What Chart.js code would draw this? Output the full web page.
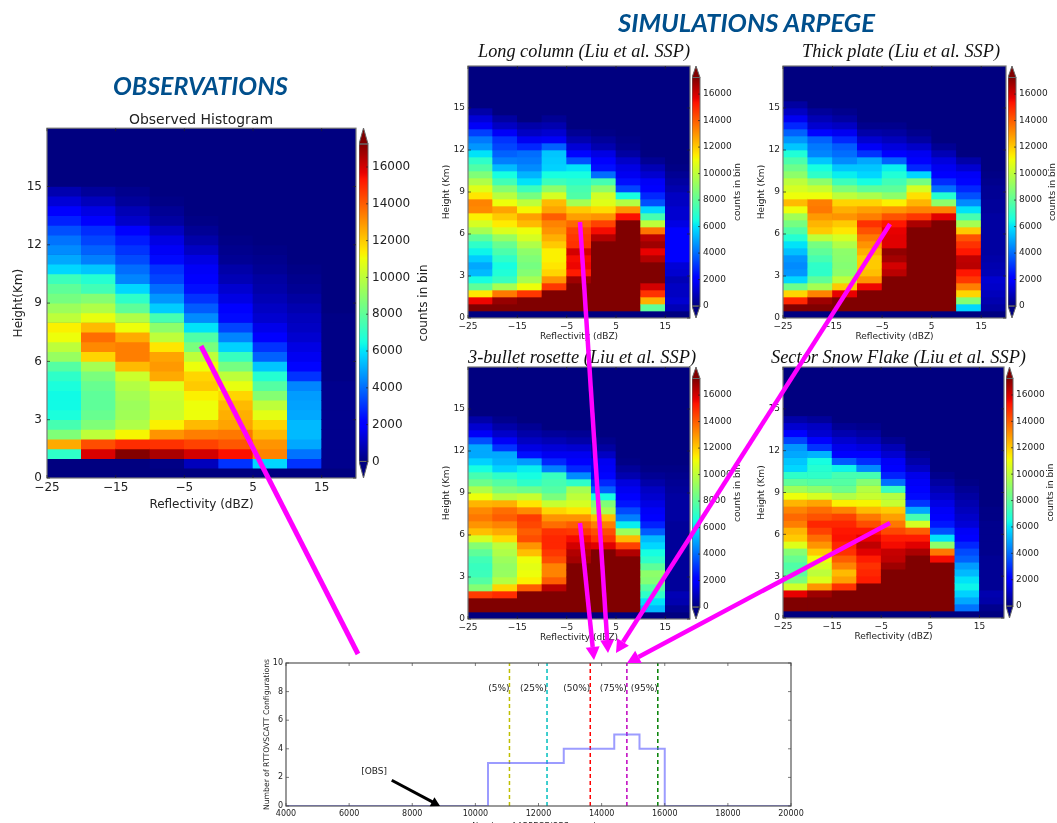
<!DOCTYPE html>
<html><head><meta charset="utf-8">
<script src="https://cdn.jsdelivr.net/npm/chart.js@4"></script>
<style>
html,body{margin:0;padding:0;background:#fff;width:1057px;height:823px;overflow:hidden}
#stage{position:absolute;left:0;top:0;width:1057px;height:823px;overflow:hidden;filter:blur(.55px)}
#stage canvas{position:absolute}
#over{position:absolute;left:0;top:0}
</style></head><body><div id="stage"></div>
<script>
const xTicksHeat=[-25,-15,-5,5,15];
const yTicksHeat=[0,3,6,9,12,15];
const colorbarRange=[0,17250];
const obsCounts=[
[0,0,7000,12600,8700,7500,6600,6400,6400,6600,7000,7800,9200,10000,11000,11300,10000,9300,8500,8000,7300,5800,5000,4500,4100,3500,2700,2000,1300,700],
[0,0,15900,14300,10000,8700,8200,8000,8000,8200,8600,9500,11800,13200,13700,12300,10900,9700,8800,7400,6800,5500,4300,3800,3300,2900,1900,1500,900,400],
[0,0,17200,14900,11200,9700,9400,9300,9500,9800,10300,12300,13400,13400,12600,11000,9700,8000,7000,5800,4400,4000,3400,3000,2600,2000,1100,800,400,200],
[0,100,16600,14800,13000,11300,10300,10200,10300,10700,12600,12900,12700,11500,10000,9000,7500,5600,4700,4000,3300,3000,2300,1800,1500,1000,500,300,100],
[0,900,16000,14500,13400,12300,11000,11000,11300,12000,11800,11000,10000,8600,7700,6000,4500,3700,3000,2400,2000,1800,1500,1000,600,300,100],
[0,3000,15400,14100,13500,12700,12500,12300,11800,10900,10000,8500,7200,5700,4400,3300,2300,1900,1500,1200,800,600,300,200,100],
[0,5800,13300,13000,12300,11800,10800,10000,8800,7800,6800,5500,3800,3000,2000,1600,1200,1000,800,600,500,300,200,100],
[0,3000,4100,5000,5300,5300,5000,4900,4800,4400,3000,2200,1700,1500,1200,1000,900,700,500,300,200,100],
[0,200,200,200,200,200,200,200,200,200,100,100,100,100,100,100,100]];
const longColumnCounts=[
[0,17300,15600,11500,8000,6500,5300,5000,5600,6300,7000,8000,9500,10500,11300,13200,13300,11500,10700,9700,8700,7700,7000,6000,4700,4200,3200,1800,1300,600],
[0,17300,16900,13500,9500,7200,6700,6500,7000,7600,8200,9200,10600,11400,12000,12700,11000,9900,8800,7400,6500,5300,4300,3800,3300,3000,1800,1000,500],
[0,17300,17300,14700,11000,9500,8800,8500,8700,9000,9700,10500,11000,12300,12800,11200,10000,8500,7300,6000,5200,4500,4200,4000,2800,1700,1000,600],
[0,17300,17300,17300,14700,13000,11800,11500,11300,11300,12000,12500,13000,13300,14000,12700,12300,10500,9000,7300,6500,5700,5600,5500,3800,1800,1200,700,300],
[0,17300,17300,17300,17300,16800,15200,15600,15500,16000,14800,14700,14500,13800,12800,12000,9500,7700,7500,7000,6500,6000,3500,2200,1300,700,300],
[0,17300,17300,17300,17300,17300,17300,17300,17300,17300,17300,16500,15500,14500,13000,11700,10700,10400,9000,7500,4000,2400,2000,1500,700,400,100],
[0,17300,17300,17300,17300,17300,17300,17300,17300,17300,17300,17300,17300,17300,15400,13000,9800,6500,3300,2400,1700,1500,1100,500,200,100],
[0,8000,12500,14800,16000,17300,17300,17300,16500,15700,16800,16400,13600,10000,7500,5800,3500,2800,1900,1800,1200,800,300],
[0,800,1200,1000,1000,800,1200,1300,2000,2000,2000,2000,2000,1500,1200,1200,1000,1000,700,500,300,100]];
const thickPlateCounts=[
[0,17300,15000,11800,8300,5800,4700,4500,4700,5400,6000,6800,7700,8500,9400,11000,12300,11000,10500,10000,9000,8300,7600,6700,5500,4700,3800,2800,1700,1000,500],
[0,17300,16800,13300,9500,8000,7000,7000,7500,8000,8500,10000,12000,12400,12900,13500,13400,11000,10200,9000,7000,6500,5500,4400,4200,3800,2200,1200,800,400],
[0,17300,17300,15700,12000,10000,9000,8800,8900,9000,9700,10500,11500,12000,13000,12500,11800,10000,8700,7300,6200,5500,4500,4000,3700,2800,1700,1000,500,200],
[0,17300,17300,17300,15600,13000,12200,12000,12000,12500,13000,13500,14200,14800,13400,12800,11800,9600,8000,6500,5800,5500,5000,3000,1800,1200,600,200],
[0,17300,17300,17300,17300,17300,16400,16000,16700,17000,15800,15800,15700,15300,14200,13000,11300,9000,8000,7400,6700,6200,3800,2000,1400,900,500,200],
[0,17300,17300,17300,17300,17300,17300,17300,17300,17300,17300,17300,17300,16600,14700,13300,12400,11600,10500,8500,5800,2800,1900,1700,1100,500,200],
[0,17300,17300,17300,17300,17300,17300,17300,17300,17300,17300,17300,17300,17300,15800,13300,9000,6800,4000,2900,2000,1700,1400,800,300],
[0,5800,8800,11800,13400,14700,15300,16400,16300,15300,14800,14200,12000,9500,7500,6000,4500,3500,2800,2200,1800,1200,600],
[0,500,700,900,1100,1200,800,700,600,500,500,500,500,500,500,400,400,300,300,200,100]];
const rosetteCounts=[
[0,17300,17300,14600,8800,7800,7300,7200,7400,8000,8800,10500,12200,13000,13500,13200,12400,11000,9700,8300,7500,6500,5700,5000,5000,3500,1800,1200,600],
[0,17300,17300,14900,11800,9800,9200,9100,9300,9700,10000,11700,12600,13300,14000,13700,12500,9900,8600,7800,7000,5700,5200,5000,3000,1800,1100,600,200],
[0,17300,17300,17300,14000,11300,11000,10800,11000,12200,13000,14300,14000,14400,14600,13200,11500,10200,8300,7000,6500,6200,4800,2400,1500,1000,600,300],
[0,17300,17300,17300,16400,14000,13300,13300,14300,14700,15000,15000,14800,13700,13000,11800,10200,8600,7800,7500,7200,4300,2800,1700,1300,800,400],
[0,17300,17300,17300,17300,17300,17300,17300,16700,16500,16000,15500,14700,14000,13000,11500,10500,10000,9500,7000,4500,2800,2000,1700,1200,600,300],
[0,17300,17300,17300,17300,17300,17300,17300,17300,17300,15800,14800,14300,13400,12200,9500,8700,6500,3800,2800,2200,1800,1700,1000,500,200],
[0,17300,17300,17300,17300,17300,17300,17300,17300,16500,14500,12300,9300,6200,4300,3400,2500,2000,1700,1400,700,400,100],
[0,5300,6000,7000,7800,8800,9000,8000,7000,6500,5800,5300,3700,2700,2000,1800,1500,1200,1000,600,300,100],
[0,300,700,800,400,400,400,400,400,400,400,400,400,400,500,500,500,500,400,300,200,100]];
const snowFlakeCounts=[
[0,17300,17300,15700,10400,8600,7900,7700,8200,8800,10700,12000,12400,13400,13800,13300,12400,11000,9400,8000,7000,5800,5500,5000,4700,3300,1900,1200,600],
[0,17300,17300,16800,13000,10600,10000,10500,11000,12000,13000,13700,14500,15000,14200,13700,12700,10500,9000,7800,7000,6800,6500,5200,3000,1900,1200,1000,400],
[0,17300,17300,17300,14800,12800,12300,13300,14000,14800,15000,15400,15300,15000,14500,13300,11300,9700,8300,7800,7500,6300,3700,2000,1600,1200,700,300],
[0,17300,17300,17300,17300,15200,15000,14800,15200,15800,16300,15700,15300,14300,13500,12300,11200,10200,9800,8800,7500,4500,2900,1900,1400,900,500,200],
[0,17300,17300,17300,17300,17300,17300,16800,16300,16200,15500,15200,14400,13500,12800,12000,10200,9800,7200,4000,2700,2000,1800,1200,800,300],
[0,17300,17300,17300,17300,17300,17300,17300,17300,16600,15800,15200,14000,10500,7500,5000,3000,2300,2000,1800,1600,1000,600,300],
[0,17300,17300,17300,17300,17300,17300,17300,15500,13500,9000,6000,3500,2500,2000,1800,1500,1100,800,500,200],
[0,4100,5000,5700,6300,6000,5300,4800,3800,3400,2800,2000,1800,1300,1100,900,700,500,300,100],
[0,200,600,700,300,300,300,300,300,200,200,200,200,200,100,100]];
const histEdges=[4000,10400,12800,14400,15200,16000,20000];
const histCounts=[0,3,4,5,4,0,0];
const percentileValues=[11080,12270,13640,14800,15780];
const percentileLabels=['(5%)','(25%)','(50%)','(75%)','(95%)'];
const percentileColors=['#bfbf00','#00bfbf','#ff0000','#bf00bf','#008000'];
const obsLabel='[OBS]';

const jetR=[[0,0],[.35,0],[.66,1],[.89,1],[1,.5]];
const jetG=[[0,0],[.125,0],[.375,1],[.64,1],[.91,0],[1,0]];
const jetB=[[0,.5],[.11,1],[.34,1],[.65,0],[1,0]];
function ch(p,t){for(let i=1;i<p.length;i++){if(t<=p[i][0]){const a=p[i-1],b=p[i];return a[1]+(b[1]-a[1])*(t-a[0])/(b[0]-a[0]);}}return p[p.length-1][1];}
function jet(t){t=Math.max(0,Math.min(1,t));return `rgb(${Math.round(255*ch(jetR,t))},${Math.round(255*ch(jetG,t))},${Math.round(255*ch(jetB,t))})`;}
const VMAX=colorbarRange[1];
const stage=document.getElementById('stage');
Chart.defaults.font.family='"DejaVu Sans"';
Chart.defaults.color='#222';
Chart.defaults.animation=false;
function mk(l,t,w,h){const c=document.createElement('canvas');c.width=w;c.height=h;c.style.left=l+'px';c.style.top=t+'px';c.style.width=w+'px';c.style.height=h+'px';stage.appendChild(c);return c;}
const minus=v=>String(v).replace('-','\u2212');
const framePlugin={id:'frame',afterDatasetsDraw(c,a,o){
 const {left,right,top,bottom}=c.chartArea,x=c.ctx;x.save();x.strokeStyle=o.color||'#777';x.lineWidth=1.2;
 x.strokeRect(left,top,right-left,bottom-top);
 x.strokeStyle=o.tick||'#111';x.lineWidth=.7;x.beginPath();
 c.scales.x.ticks.forEach((t,i)=>{const p=c.scales.x.getPixelForTick(i);x.moveTo(p,bottom);x.lineTo(p,bottom-3);x.moveTo(p,top);x.lineTo(p,top+3);});
 c.scales.y.ticks.forEach((t,i)=>{const p=c.scales.y.getPixelForTick(i);x.moveTo(left,p);x.lineTo(left+3,p);x.moveTo(right,p);x.lineTo(right-3,p);});
 x.stroke();x.restore();}};
const navyPlot={id:'navyPlot',beforeDatasetsDraw(c){const a=c.chartArea;c.ctx.save();c.ctx.fillStyle=jet(0);c.ctx.fillRect(a.left,a.top,a.right-a.left,a.bottom-a.top);c.ctx.restore();}};

function heatmap(table,box,m){
 const T=12,R=4;
 const cv=mk(box.l-m.L,box.t-T,box.r-box.l+m.L+R,box.b-box.t+T+m.B);
 const points=[],colors=[];
 table.forEach((col,i)=>{for(let r=0;r<36;r++){const v=col[r]||0;points.push({x:-22.5+5*i,y:[r*.5,r*.5+.5]});colors.push(jet(v/VMAX));}});
 new Chart(cv,{type:'bar',data:{datasets:[{data:points,backgroundColor:colors,borderWidth:0,barPercentage:1,categoryPercentage:1}]},
  plugins:[navyPlot,framePlugin],
  options:{responsive:false,events:[],layout:{padding:{top:T,right:R}},
   plugins:{legend:{display:false},tooltip:{enabled:false},frame:{color:'#777',tick:'#222'}},
   scales:{
    x:{type:'linear',offset:false,min:-25,max:20,grid:{display:false,drawTicks:false},border:{display:false},
      afterBuildTicks:s=>{s.ticks=xTicksHeat.map(v=>({value:v}));},
      afterFit:s=>{s.height=m.B;},
      ticks:{font:{size:m.fs},padding:m.tpx,callback:minus,maxRotation:0},
      title:{display:true,text:'Reflectivity (dBZ)',font:{size:m.fs},color:'#222',padding:{top:0,bottom:m.xtb}}},
    y:{type:'linear',min:0,max:18,grid:{display:false,drawTicks:false},border:{display:false},
      afterBuildTicks:s=>{s.ticks=yTicksHeat.map(v=>({value:v}));},
      afterFit:s=>{s.width=m.L;},
      ticks:{font:{size:m.fs},padding:m.tp},
      title:{display:true,text:m.ylab,font:{size:m.fs},color:'#222',padding:{top:m.ytp,bottom:0}}}
   }}});
}
const cbPlugin={id:'cbEnds',afterDatasetsDraw(c,a,o){
 const {left,right,top,bottom}=c.chartArea,x=c.ctx,s=c.scales.y,y1=s.getPixelForValue(VMAX),y0=s.getPixelForValue(0),mid=(left+right)/2;
 x.save();x.strokeStyle='#666';x.lineWidth=1;
 x.fillStyle=jet(1);x.beginPath();x.moveTo(left,y1);x.lineTo(mid,top);x.lineTo(right,y1);x.closePath();x.fill();x.stroke();
 x.fillStyle=jet(0);x.beginPath();x.moveTo(left,y0);x.lineTo(mid,bottom);x.lineTo(right,y0);x.closePath();x.fill();x.stroke();
 x.strokeRect(left,y1,right-left,y0-y1);
 x.strokeStyle='#222';x.lineWidth=.7;x.beginPath();s.ticks.forEach((t,i)=>{const p=s.getPixelForTick(i);x.moveTo(right,p);x.lineTo(right-2,p);});x.stroke();
 x.translate(right+o.titleX,(top+bottom)/2);x.rotate(-Math.PI/2);x.fillStyle='#222';x.font=o.fs+'px "DejaVu Sans"';x.textAlign='center';x.textBaseline='middle';x.fillText('counts in bin',0,0);
 x.restore();}};
const cbTicks=[0,2000,4000,6000,8000,10000,12000,14000,16000];
function colorbar(box,m){
 const P=12;
 const cv=mk(box.l,box.t-P,box.r-box.l+m.W,box.b-box.t+2*P);
 new Chart(cv,{type:'bar',data:{labels:['counts'],datasets:[{data:[colorbarRange],borderWidth:0,barPercentage:1,categoryPercentage:1,inflateAmount:0,
   backgroundColor(c){const ch=c.chart;if(!ch.chartArea)return '#000';const s=ch.scales.y;const g=ch.ctx.createLinearGradient(0,s.getPixelForValue(0),0,s.getPixelForValue(VMAX));for(let i=0;i<=100;i++)g.addColorStop(i/100,jet(i/100));return g;}}]},
  plugins:[cbPlugin],
  options:{responsive:false,events:[],layout:{padding:{top:P,bottom:P}},
   plugins:{legend:{display:false},tooltip:{enabled:false},cbEnds:{titleX:m.tx,fs:m.fs}},
   scales:{x:{display:false},
    y:{position:'right',min:-900,max:18120,grid:{display:false,drawTicks:false},border:{display:false},
     afterBuildTicks:s=>{s.ticks=cbTicks.map(v=>({value:v}));},
     afterFit:s=>{s.width=m.W;},
     ticks:{font:{size:m.fs},padding:m.tp,callback:v=>String(v)}}}}});
}
const big={L:37,B:36,fs:12,tp:5,tpx:3,xtb:2,ylab:'Height(Km)',ytp:2};
const small={L:28,B:26,fs:9,tp:3,tpx:3,xtb:2,ylab:'Height (Km)',ytp:1};
heatmap(obsCounts,{l:47,t:128,r:356,b:478},big);
heatmap(longColumnCounts,{l:468,t:66,r:690,b:318},small);
heatmap(thickPlateCounts,{l:783,t:66,r:1006,b:318},small);
heatmap(rosetteCounts,{l:468,t:367,r:690,b:619},small);
heatmap(snowFlakeCounts,{l:783,t:367,r:1004,b:618},small);
colorbar({l:359,t:128,r:368,b:478},{W:64,fs:12,tp:4,tx:56});
colorbar({l:692,t:66,r:700,b:318},{W:46,fs:9,tp:3,tx:38});
colorbar({l:1008,t:66,r:1016,b:318},{W:41,fs:9,tp:3,tx:37});
colorbar({l:692,t:367,r:700,b:619},{W:46,fs:9,tp:3,tx:38});
colorbar({l:1006,t:367,r:1013,b:618},{W:44,fs:9,tp:3,tx:38});

const histNotes={id:'histNotes',afterDatasetsDraw(c){
 const x=c.ctx,sx=c.scales.x,sy=c.scales.y;x.save();
 x.font='9px "DejaVu Sans"';x.fillStyle='#222';x.textBaseline='middle';x.textAlign='right';
 percentileValues.forEach((v,i)=>x.fillText(percentileLabels[i],sx.getPixelForValue(v),sy.getPixelForValue(8.2)));
 x.textAlign='center';x.fillText(obsLabel,sx.getPixelForValue(6790),sy.getPixelForValue(2.4));
 const ax=sx.getPixelForValue(7350),ay=sy.getPixelForValue(1.8),bx=sx.getPixelForValue(8880),by=sy.getPixelForValue(0);
 const a=Math.atan2(by-ay,bx-ax);x.strokeStyle='#000';x.fillStyle='#000';x.lineWidth=3;
 x.beginPath();x.moveTo(ax,ay);x.lineTo(bx-6*Math.cos(a),by-6*Math.sin(a));x.stroke();
 x.beginPath();x.moveTo(bx,by);x.lineTo(bx-9*Math.cos(a)+5*Math.sin(a),by-9*Math.sin(a)-5*Math.cos(a));x.lineTo(bx-9*Math.cos(a)-5*Math.sin(a),by-9*Math.sin(a)+5*Math.cos(a));x.closePath();x.fill();
 x.restore();}};
(function(){
 const box={l:286,t:663,r:791,b:806},L=31,B=26,T=12,R=24;
 const cv=mk(box.l-L,box.t-T,box.r-box.l+L+R,box.b-box.t+T+B);
 const ds=[{data:histEdges.map((e,i)=>({x:e,y:histCounts[i]})),stepped:'before',borderColor:'rgba(90,90,255,.6)',borderWidth:2,pointRadius:0,fill:false}];
 percentileValues.forEach((v,i)=>ds.push({data:[{x:v,y:0},{x:v,y:10}],borderColor:percentileColors[i],borderWidth:1.5,borderDash:[4,3],pointRadius:0,fill:false}));
 new Chart(cv,{type:'line',data:{datasets:ds},plugins:[framePlugin,histNotes],
  options:{responsive:false,events:[],layout:{padding:{top:T,right:R}},
   plugins:{legend:{display:false},tooltip:{enabled:false},frame:{color:'#555',tick:'#444'}},
   scales:{
    x:{type:'linear',min:4000,max:20000,grid:{display:false,drawTicks:false},border:{display:false},
      afterFit:s=>{s.height=B;},
      ticks:{stepSize:2000,font:{size:8},padding:3,maxRotation:0,callback:v=>String(v)},
      title:{display:true,text:'Number of ARPEGE/OBS samples',font:{size:8},color:'#222',padding:{top:0,bottom:0}}},
    y:{type:'linear',min:0,max:10,grid:{display:false,drawTicks:false},border:{display:false},
      afterFit:s=>{s.width=L;},
      ticks:{stepSize:2,font:{size:8},padding:3},
      title:{display:true,text:'Number of RTTOVSCATT Configurations',font:{size:7.7},color:'#222',padding:{top:7,bottom:0}}}}}});
})();

// overlay: headings and magenta connector arrows
const NS='http://www.w3.org/2000/svg';
const svg=document.createElementNS(NS,'svg');svg.setAttribute('id','over');svg.setAttribute('width','1057');svg.setAttribute('height','823');stage.appendChild(svg);
function txt(s,x1,x2,y,fam,size,weight,fill){const t=document.createElementNS(NS,'text');t.textContent=s;t.setAttribute('x',x1);t.setAttribute('y',y);t.setAttribute('textLength',x2-x1);t.setAttribute('lengthAdjust','spacingAndGlyphs');t.setAttribute('font-family',fam);t.setAttribute('font-size',size);t.setAttribute('font-weight',weight);t.setAttribute('font-style',fam.includes('DejaVu')?'normal':'italic');t.setAttribute('fill',fill);svg.appendChild(t);}
const headFont='Lato',capFont='"Liberation Serif"',blue='#004f8c';
txt('OBSERVATIONS',113,288,95,headFont,24,'700',blue);
txt('SIMULATIONS ARPEGE',618,875,32,headFont,24,'700',blue);
txt('Observed Histogram',129,273,124,'"DejaVu Sans"',14,'400','#222');
txt('Long column (Liu et al. SSP)',478,690,57,capFont,18,'400','#111');
txt('Thick plate (Liu et al. SSP)',802,1000,57,capFont,18,'400','#111');
txt('3-bullet rosette (Liu et al. SSP)',468,696,363,capFont,18,'400','#111');
txt('Sector Snow Flake (Liu et al. SSP)',771,1026,363,capFont,18,'400','#111');
function arrow(x1,y1,x2,y2,head){const a=Math.atan2(y2-y1,x2-x1),c=Math.cos(a),s=Math.sin(a),len=head?13:0;
 const l=document.createElementNS(NS,'line');l.setAttribute('x1',x1);l.setAttribute('y1',y1);l.setAttribute('x2',x2-len*c);l.setAttribute('y2',y2-len*s);l.setAttribute('stroke','#ff00ff');l.setAttribute('stroke-width',head?4.5:5);svg.appendChild(l);
 if(head){const p=document.createElementNS(NS,'polygon');const bx=x2-len*c,by=y2-len*s;p.setAttribute('points',`${x2},${y2} ${bx+7*s},${by-7*c} ${bx-7*s},${by+7*c}`);p.setAttribute('fill','#ff00ff');svg.appendChild(p);}}
arrow(201,346,358,654,false);
arrow(580,222,608,653,true);
arrow(890,224,616,653,true);
arrow(580,523,594,660,true);
arrow(890,523,627,663,true);
</script></body></html>
